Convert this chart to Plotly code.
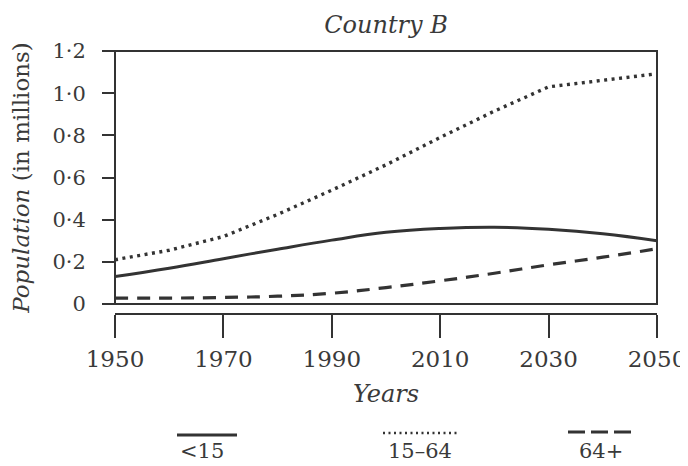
import plotly.graph_objects as go

# ---- data ----
years = [1950, 1960, 1970, 1980, 1990, 2000, 2010, 2020, 2030, 2040, 2050]
under15 = [0.130, 0.170, 0.215, 0.260, 0.303, 0.340, 0.358, 0.364, 0.354, 0.333, 0.300]
age15_64 = [0.210, 0.255, 0.320, 0.425, 0.540, 0.660, 0.790, 0.915, 1.030, 1.062, 1.092]
age64plus = [0.028, 0.028, 0.031, 0.037, 0.051, 0.078, 0.110, 0.146, 0.186, 0.222, 0.262]
series_names = ["<15", "15\u201364", "64+"]
x_ticks = [1950, 1970, 1990, 2010, 2030, 2050]
y_tickvals = [0, 0.2, 0.4, 0.6, 0.8, 1.0, 1.2]
y_ticktext = ["0", "0\u00b72", "0\u00b74", "0\u00b76", "0\u00b78", "1\u00b70", "1\u00b72"]

# ---- style ----
OFF = 8                                # page body margin of the browser
W, H = 688 - OFF, 466 - OFF
L, R, T, B = 115 - OFF, 657 - OFF, 51 - OFF, 314 - OFF   # paper box (figure pixels)
PLOT_BOTTOM = 304 - OFF                # bottom of framed plot area
INK = "#333333"
TXT = "#3a3a3a"
SERIF = "DejaVu Serif"
styles = [
    dict(dash="solid", width=3),
    dict(dash="3px,4.5px", width=3.4),
    dict(dash="13px,9px", width=3.2),
]

def px(xp):  # screen pixel -> paper x
    return (xp - OFF - L) / (R - L)

def py(yp):  # screen pixel -> paper y
    return (B - (yp - OFF)) / (B - T)

fig = go.Figure()
for name, vals, st, shape in zip(series_names, [under15, age15_64, age64plus], styles,
                                 ["spline", "linear", "spline"]):
    fig.add_trace(go.Scatter(
        x=years, y=vals, mode="lines", name=name,
        line=dict(color=INK, width=st["width"], dash=st["dash"], shape=shape, smoothing=1.2),
        showlegend=False, cliponaxis=True,
    ))

ydom0 = (B - PLOT_BOTTOM) / (B - T)

fig.update_layout(
    width=W, height=H,
    margin=dict(l=L, r=W - R, t=T, b=H - B, pad=0, autoexpand=False),
    paper_bgcolor="white", plot_bgcolor="white",
    font=dict(family=SERIF, color=TXT),
    title=dict(text="Country B", x=0.5, xref="paper", xanchor="center",
               y=1 - (25 - OFF) / H, yref="container", yanchor="middle", automargin=False,
               font=dict(family=SERIF, size=24, style="italic", color=TXT)),
    xaxis=dict(
        range=[1950, 2050], tickvals=x_ticks, ticktext=[str(v) for v in x_ticks],
        anchor="free", position=0, showline=True, linecolor=INK, linewidth=2,
        ticks="outside", ticklen=23, tickwidth=1.5, tickcolor=INK, automargin=False,
        showgrid=False, zeroline=False, ticklabelstandoff=1,
        tickfont=dict(family=SERIF, size=23, color=TXT),
        title=dict(text="Years", standoff=14,
                   font=dict(family=SERIF, size=24, style="italic", color=TXT)),
    ),
    yaxis=dict(
        range=[0, 1.2], domain=[ydom0, 1], tickvals=y_tickvals, ticktext=y_ticktext,
        ticks="outside", ticklen=12, tickwidth=1.5, tickcolor=INK, automargin=False,
        showline=False, showgrid=False, zeroline=False, ticklabelstandoff=12,
        tickfont=dict(family=SERIF, size=21, color=TXT),
        title=dict(text="<i>Population</i> (in millions)", standoff=17,
                   font=dict(family=SERIF, size=23, color=TXT)),
    ),
)

# frame around the plotting area
fig.add_shape(type="rect", xref="x domain", yref="y domain", x0=0, x1=1, y0=0, y1=1,
              line=dict(color=INK, width=2), layer="above")

# custom legend: sample line above each label (screen pixel positions)
legend_pos = [(177, 237, 435, 202), (383, 458, 433, 420), (568, 632, 432, 601)]
legend_styles = [
    dict(dash="solid", width=3),
    dict(dash="2px,3.5px", width=2.6),
    dict(dash="17px,6px", width=3),
]
for name, (x0, x1, yl, xc), st in zip(series_names, legend_pos, legend_styles):
    fig.add_shape(type="line", xref="paper", yref="paper",
                  x0=px(x0), x1=px(x1), y0=py(yl), y1=py(yl),
                  line=dict(color=INK, width=st["width"], dash=st["dash"]))
    fig.add_annotation(text=name, xref="paper", yref="paper", x=px(xc), y=py(451),
                       xanchor="center", yanchor="middle", showarrow=False,
                       font=dict(family=SERIF, size=21, color=TXT))

fig.write_html("out.html")
